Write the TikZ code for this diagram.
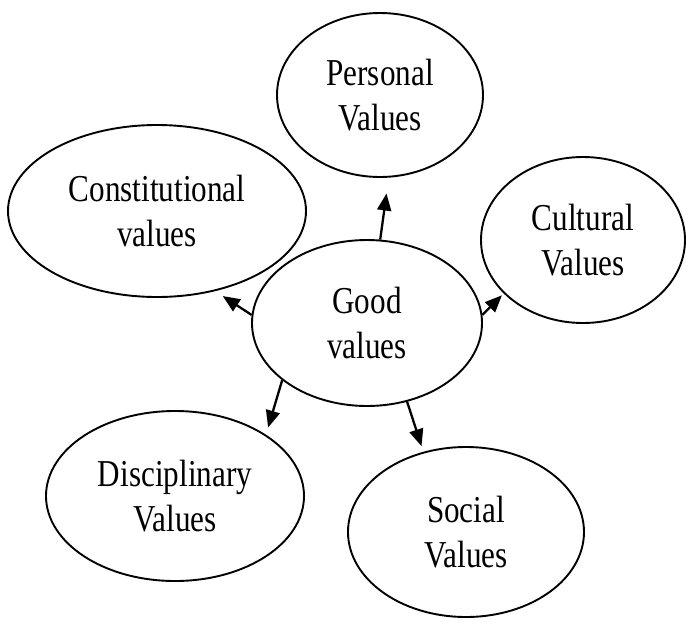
\documentclass[tikz,border=0pt]{standalone}
\usepackage{fontspec}
\setmainfont[FakeStretch=0.82]{Liberation Serif}
\usetikzlibrary{arrows.meta,shapes.geometric}
\begin{document}
\begin{tikzpicture}[x=1pt,y=-1pt,
  bubble/.style={draw, ellipse, line width=1.9pt, inner sep=0pt, align=center,
    font=\fontsize{38}{45}\selectfont, text=black},
  arr/.style={line width=2.3pt, -{Triangle[length=17pt,width=14pt]}}]
\useasboundingbox[fill=white] (0,0) rectangle (686,625);
\node[bubble, minimum width=206pt, minimum height=164pt] (pers) at (380,95) {Personal\\Values};
\node[bubble, minimum width=298pt, minimum height=172pt] (cons) at (157,211) {Constitutional\\values};
\node[bubble, minimum width=204pt, minimum height=166pt] (cult) at (583,240) {Cultural\\Values};
\node[bubble, minimum width=230pt, minimum height=166pt] (good) at (367,323) {Good\\values};
\node[bubble, minimum width=258pt, minimum height=170pt] (disc) at (175,496) {Disciplinary\\Values};
\node[bubble, minimum width=236pt, minimum height=170pt] (soc) at (466,532) {Social\\Values};
\draw[arr, shorten >=16pt] (good.81) -- (pers.276.5);
\draw[arr, shorten >=9pt] (good.176) -- (cons.306.5);
\draw[arr, shorten >=2.5pt] (good.4) -- (cult.214.3);
\draw[arr, shorten >=7.4pt] (good.214) -- (disc.34);
\draw[arr, shorten >=5.9pt] (good.297.7) -- (soc.118.1);
\end{tikzpicture}
\end{document}
